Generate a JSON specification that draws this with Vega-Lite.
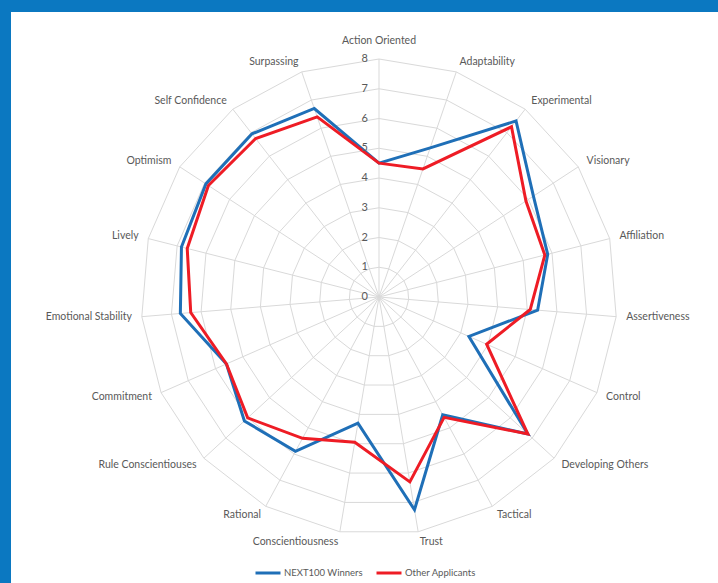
{
  "$schema": "https://vega.github.io/schema/vega-lite/v6.json",
  "width": 707,
  "height": 571,
  "autosize": {"type": "none"},
  "padding": {"left": 11, "top": 12, "right": 0, "bottom": 0},
  "background": "#0B78C1",
  "view": {"fill": "#ffffff", "stroke": null},
  "config": {"font": "Lato"},
  "datasets": {
    "scores": [
      {"cat": "Action Oriented", "NEXT100 Winners": 4.5, "Other Applicants": 4.5},
      {"cat": "Adaptability", "NEXT100 Winners": 5.3, "Other Applicants": 4.55},
      {"cat": "Experimental", "NEXT100 Winners": 7.5, "Other Applicants": 7.25},
      {"cat": "Visionary", "NEXT100 Winners": 6.2, "Other Applicants": 5.9},
      {"cat": "Affiliation", "NEXT100 Winners": 5.85, "Other Applicants": 5.75},
      {"cat": "Assertiveness", "NEXT100 Winners": 5.35, "Other Applicants": 5.1},
      {"cat": "Control", "NEXT100 Winners": 3.3, "Other Applicants": 3.95},
      {"cat": "Developing Others", "NEXT100 Winners": 6.8, "Other Applicants": 6.8},
      {"cat": "Tactical", "NEXT100 Winners": 4.5, "Other Applicants": 4.6},
      {"cat": "Trust", "NEXT100 Winners": 7.25, "Other Applicants": 6.3},
      {"cat": "Conscientiousness", "NEXT100 Winners": 4.3, "Other Applicants": 4.95},
      {"cat": "Rational", "NEXT100 Winners": 5.9, "Other Applicants": 5.4},
      {"cat": "Rule Conscientiouses", "NEXT100 Winners": 6.15, "Other Applicants": 6.0},
      {"cat": "Commitment", "NEXT100 Winners": 5.6, "Other Applicants": 5.6},
      {"cat": "Emotional Stability", "NEXT100 Winners": 6.7, "Other Applicants": 6.35},
      {"cat": "Lively", "NEXT100 Winners": 6.85, "Other Applicants": 6.65},
      {"cat": "Optimism", "NEXT100 Winners": 6.95, "Other Applicants": 6.85},
      {"cat": "Self Confidence", "NEXT100 Winners": 6.95, "Other Applicants": 6.75},
      {"cat": "Surpassing", "NEXT100 Winners": 6.7, "Other Applicants": 6.4}
    ],
    "ticks": [
      {"t": 0}, {"t": 1}, {"t": 2}, {"t": 3}, {"t": 4}, {"t": 5}, {"t": 6}, {"t": 7}, {"t": 8}
    ]
  },
  "layer": [
    {
      "data": {"name": "scores"},
      "transform": [
        {"window": [{"op": "row_number", "as": "rn"}]},
        {"calculate": "(datum.rn - 1) * 2 * PI / 19", "as": "a"},
        {"calculate": "0", "as": "ox"},
        {"calculate": "8 * sin(datum.a)", "as": "sx"},
        {"calculate": "8 * cos(datum.a)", "as": "sy"}
      ],
      "mark": {"type": "rule", "color": "#d9d9d9", "strokeWidth": 1},
      "encoding": {
        "x": {"field": "ox", "type": "quantitative", "scale": {"domain": [-12.370, 11.395], "nice": false, "zero": false}, "axis": null},
        "y": {"field": "ox", "type": "quantitative", "scale": {"domain": [-9.613, 9.580], "nice": false, "zero": false}, "axis": null},
        "x2": {"field": "sx"},
        "y2": {"field": "sy"}
      }
    },
    {
      "data": {"name": "scores"},
      "transform": [
        {"window": [{"op": "row_number", "as": "rn"}]},
        {"calculate": "(datum.rn - 1) * 2 * PI / 19", "as": "a"},
        {"calculate": "[1, 2, 3, 4, 5, 6, 7, 8]", "as": "lev"},
        {"flatten": ["lev"]},
        {"calculate": "datum.lev * sin(datum.a)", "as": "gx"},
        {"calculate": "datum.lev * cos(datum.a)", "as": "gy"}
      ],
      "mark": {"type": "line", "interpolate": "linear-closed", "color": "#d9d9d9", "strokeWidth": 1},
      "encoding": {
        "x": {"field": "gx", "type": "quantitative", "scale": {"domain": [-12.370, 11.395], "nice": false, "zero": false}, "axis": null},
        "y": {"field": "gy", "type": "quantitative", "scale": {"domain": [-9.613, 9.580], "nice": false, "zero": false}, "axis": null},
        "detail": {"field": "lev", "type": "nominal"},
        "order": {"field": "rn", "type": "quantitative"}
      }
    },
    {
      "data": {"name": "scores"},
      "transform": [
        {"window": [{"op": "row_number", "as": "rn"}]},
        {"calculate": "(datum.rn - 1) * 2 * PI / 19", "as": "a"},
        {"fold": ["NEXT100 Winners", "Other Applicants"], "as": ["series", "v"]},
        {"calculate": "datum.v * sin(datum.a)", "as": "px"},
        {"calculate": "datum.v * cos(datum.a)", "as": "py"}
      ],
      "mark": {"type": "line", "interpolate": "linear-closed", "strokeWidth": 3},
      "encoding": {
        "x": {"field": "px", "type": "quantitative", "scale": {"domain": [-12.370, 11.395], "nice": false, "zero": false}, "axis": null},
        "y": {"field": "py", "type": "quantitative", "scale": {"domain": [-9.613, 9.580], "nice": false, "zero": false}, "axis": null},
        "color": {
          "field": "series",
          "type": "nominal",
          "scale": {"domain": ["NEXT100 Winners", "Other Applicants"], "range": ["#1F6FB7", "#EE1C25"]},
          "legend": {
            "title": null,
            "orient": "none",
            "legendX": 243,
            "legendY": 547,
            "direction": "horizontal",
            "symbolType": "stroke",
            "symbolSize": 625,
            "symbolStrokeWidth": 3,
            "labelFont": "Lato",
            "labelFontSize": 9.5,
            "labelColor": "#595959",
            "labelOffset": 2,
            "columnPadding": 7
          }
        },
        "order": {"field": "rn", "type": "quantitative"}
      }
    },
    {
      "data": {"name": "ticks"},
      "transform": [{"calculate": "0", "as": "ox"}],
      "mark": {"type": "text", "align": "right", "baseline": "middle", "dx": -11, "fontSize": 11, "color": "#595959"},
      "encoding": {
        "x": {"field": "ox", "type": "quantitative", "scale": {"domain": [-12.370, 11.395], "nice": false, "zero": false}, "axis": null},
        "y": {"field": "t", "type": "quantitative", "scale": {"domain": [-9.613, 9.580], "nice": false, "zero": false}, "axis": null},
        "text": {"field": "t", "type": "quantitative"}
      }
    },
    {
      "data": {"name": "scores"},
      "transform": [
        {"window": [{"op": "row_number", "as": "rn"}]},
        {"calculate": "(datum.rn - 1) * 2 * PI / 19", "as": "a"},
        {"calculate": "8.336 * sin(datum.a)", "as": "lx"},
        {"calculate": "8.336 * cos(datum.a)", "as": "ly"}
      ],
      "mark": {
        "type": "text",
        "align": {"expr": "datum.lx > 0.9 ? 'left' : (datum.lx < -0.9 ? 'right' : 'center')"},
        "dy": {"expr": "datum.rn == 1 ? -8 : 0"},
        "baseline": "middle",
        "fontSize": 10.5,
        "color": "#595959"
      },
      "encoding": {
        "x": {"field": "lx", "type": "quantitative", "scale": {"domain": [-12.370, 11.395], "nice": false, "zero": false}, "axis": null},
        "y": {"field": "ly", "type": "quantitative", "scale": {"domain": [-9.613, 9.580], "nice": false, "zero": false}, "axis": null},
        "text": {"field": "cat", "type": "nominal"}
      }
    }
  ]
}
